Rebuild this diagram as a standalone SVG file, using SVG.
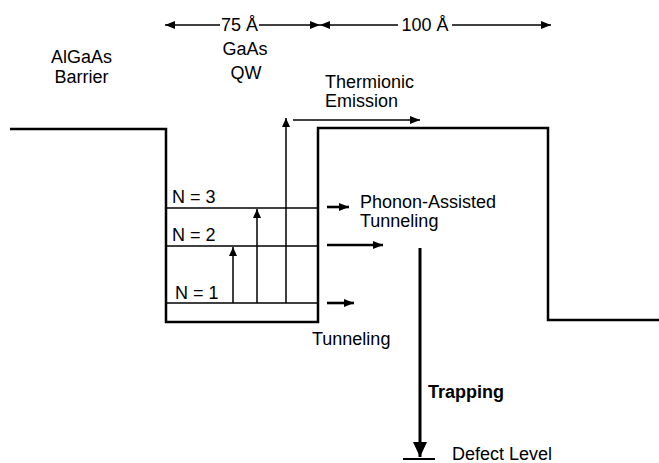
<svg xmlns="http://www.w3.org/2000/svg" width="659" height="463" viewBox="0 0 659 463">
<style>
text{font-family:"Liberation Sans",Arial,sans-serif;font-size:18px;fill:#000}
.b{font-weight:bold}
.prof{fill:none;stroke:#000;stroke-width:2.5}
.lvl{stroke:#000;stroke-width:1.6}
.thin{stroke:#000;stroke-width:1.5;fill:none}
.thk{stroke:#000;stroke-width:2.6;fill:none}
</style>
<defs>
<marker id="ah" markerUnits="userSpaceOnUse" markerWidth="12" markerHeight="10" refX="10" refY="4" orient="auto"><path d="M0,0 L10,4 L0,8 z" fill="#000"/></marker>
<marker id="ahs" markerUnits="userSpaceOnUse" markerWidth="12" markerHeight="10" refX="9" refY="4" orient="auto"><path d="M0,0 L9,4 L0,8 z" fill="#000"/></marker>
<marker id="ahb" markerUnits="userSpaceOnUse" markerWidth="18" markerHeight="16" refX="15" refY="7" orient="auto"><path d="M0,0 L15,7 L0,14 z" fill="#000"/></marker>
</defs>

<g id="profile">
<path class="prof" d="M10,129 H166 V322 H318 V128 H548 V320 H659"/>
</g>

<g id="levels">
<line class="lvl" x1="166" y1="208" x2="318" y2="208"/>
<line class="lvl" x1="166" y1="246" x2="318" y2="246"/>
<line class="lvl" x1="166" y1="303" x2="318" y2="303"/>
<text x="172" y="203">N = 3</text>
<text x="172" y="241">N = 2</text>
<text x="175" y="299">N = 1</text>
</g>

<g id="connectors">
<line class="thin" x1="233" y1="303" x2="233" y2="247" marker-end="url(#ahs)"/>
<line class="thin" x1="257" y1="303" x2="257" y2="209" marker-end="url(#ahs)"/>
<line class="thin" x1="286" y1="303" x2="286" y2="118" marker-end="url(#ahs)"/>
<line class="thin" x1="293" y1="120" x2="420" y2="120" marker-end="url(#ah)"/>
<line class="thk" x1="327" y1="207" x2="349" y2="207" marker-end="url(#ah)"/>
<line class="thk" x1="327" y1="245" x2="383" y2="245" marker-end="url(#ah)"/>
<line class="thk" x1="327" y1="303" x2="354" y2="303" marker-end="url(#ah)"/>
<line stroke="#000" stroke-width="3" x1="420" y1="248" x2="420" y2="457" marker-end="url(#ahb)"/>
<line class="thin" x1="220" y1="25" x2="165" y2="25" marker-end="url(#ah)"/>
<line class="thin" x1="259" y1="25" x2="320" y2="25" marker-end="url(#ah)"/>
<line class="thin" x1="398" y1="25" x2="320" y2="25" marker-end="url(#ah)"/>
<line class="thin" x1="452" y1="25" x2="551" y2="25" marker-end="url(#ah)"/>
</g>

<g id="dimensions">
<text x="239.5" y="31" text-anchor="middle">75 Å</text>
<text x="425" y="31" text-anchor="middle">100 Å</text>
</g>

<g id="barrier-label">
<text x="81.5" y="63" text-anchor="middle">AlGaAs</text>
<text x="81.5" y="83" text-anchor="middle">Barrier</text>
</g>

<g id="qw-label">
<text x="245" y="55" text-anchor="middle">GaAs</text>
<text x="246" y="79" text-anchor="middle">QW</text>
</g>

<g id="thermionic">
<text x="325" y="88">Thermionic</text>
<text x="325" y="107">Emission</text>
</g>

<g id="phonon">
<text x="360" y="208">Phonon-Assisted</text>
<text x="360" y="227">Tunneling</text>
</g>

<g id="tunneling">
<text x="312" y="345">Tunneling</text>
</g>

<g id="trapping">
<text class="b" x="428" y="398">Trapping</text>
</g>

<g id="defect">
<line stroke="#000" stroke-width="2" x1="403" y1="459" x2="435" y2="459"/>
<text x="452" y="460">Defect Level</text>
</g>
</svg>
